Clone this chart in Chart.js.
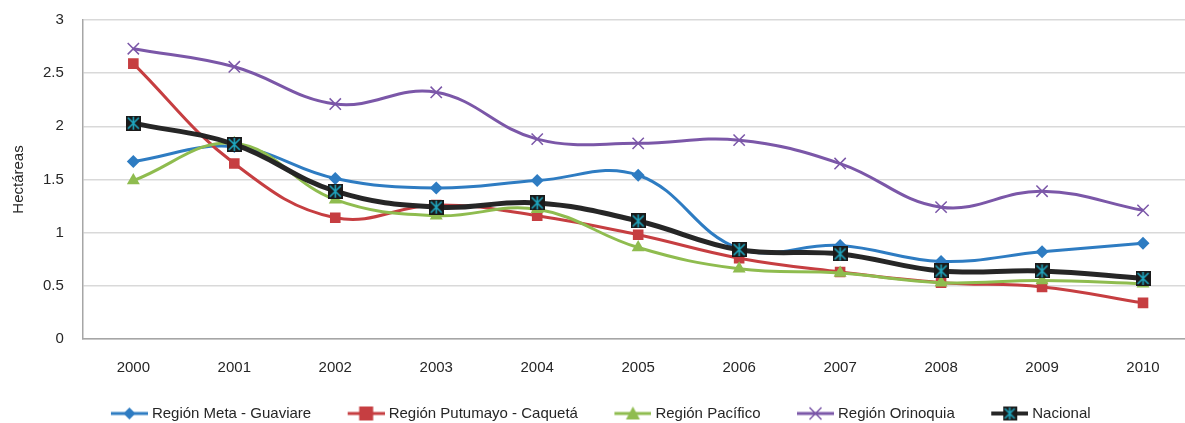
<!DOCTYPE html>
<html>
<head>
<meta charset="utf-8">
<script src="https://cdn.jsdelivr.net/npm/chart.js@4.4.0/dist/chart.umd.min.js"></script>
<style>
  html, body { margin: 0; padding: 0; background: #fff; overflow: hidden; }
  #hectChart { display: block; margin-top: -8px; }
</style>
</head>
<body>
<canvas id="hectChart" width="1203" height="431"></canvas>
<script>
var years = ['2000', '2001', '2002', '2003', '2004', '2005', '2006', '2007', '2008', '2009', '2010'];
var metaGuaviare = [1.67, 1.81, 1.51, 1.42, 1.49, 1.54, 0.85, 0.88, 0.73, 0.82, 0.90];
var putumayoCaqueta = [2.59, 1.65, 1.14, 1.26, 1.16, 0.98, 0.76, 0.63, 0.53, 0.49, 0.34];
var pacifico = [1.49, 1.84, 1.31, 1.16, 1.22, 0.86, 0.66, 0.62, 0.53, 0.55, 0.52];
var orinoquia = [2.73, 2.56, 2.21, 2.32, 1.88, 1.84, 1.87, 1.65, 1.24, 1.39, 1.21];
var nacional = [2.03, 1.83, 1.39, 1.24, 1.28, 1.11, 0.84, 0.80, 0.64, 0.64, 0.57];
var yTicks = [0, 0.5, 1, 1.5, 2, 2.5, 3];

var fontName = '"Liberation Sans", Arial, sans-serif';

// star marker used by the Nacional series
function starMarker(size) {
    var c = document.createElement('canvas');
    c.width = size; c.height = size;
    var g = c.getContext('2d');
    g.fillStyle = '#1a1a1a';
    g.fillRect(0, 0, size, size);
    g.strokeStyle = '#1fa7c0';
    g.lineWidth = 1.6;
    g.beginPath();
    g.moveTo(2, 2); g.lineTo(size - 2, size - 2);
    g.moveTo(size - 2, 2); g.lineTo(2, size - 2);
    g.moveTo(size / 2, 1); g.lineTo(size / 2, size - 1);
    g.stroke();
    return c;
}

// legend sample: blank room on the left (item spacing), then a short line with the marker
// the canvas is a bit wider than the legend box so the line ends close to the text
var boxW = 64;
var overhang = 3.5;
var sampleW = 37;
function legendIcon(color, lineW, drawMarker) {
    var c = document.createElement('canvas');
    c.width = boxW + 2 * overhang; c.height = 16;
    var g = c.getContext('2d');
    var x1 = c.width, x0 = x1 - sampleW;
    g.strokeStyle = color;
    g.lineWidth = lineW;
    g.beginPath(); g.moveTo(x0, 8); g.lineTo(x1, 8); g.stroke();
    drawMarker(g, (x0 + x1) / 2, 8);
    return c;
}

var nacStar = starMarker(15);

var series = [
    {label: 'Región Meta - Guaviare', data: metaGuaviare, color: '#2e7cc2', style: 'rectRot', radius: 6.5, order: 5, width: 3},
    {label: 'Región Putumayo - Caquetá', data: putumayoCaqueta, color: '#c63e41', style: 'rect', radius: 7.5, order: 4, width: 3},
    {label: 'Región Pacífico', data: pacifico, color: '#8fbc4f', style: 'triangle', radius: 7.5, order: 3, width: 3},
    {label: 'Región Orinoquia', data: orinoquia, color: '#7b57a8', style: 'crossRot', radius: 8, order: 2, width: 3},
    {label: 'Nacional', data: nacional, color: '#262626', style: nacStar, radius: 7, order: 1, width: 5}
];

var icons = [
    legendIcon('#2e7cc2', 3, function (g, x, y) {
        g.fillStyle = '#2e7cc2'; g.beginPath();
        g.moveTo(x, y - 6); g.lineTo(x + 6, y); g.lineTo(x, y + 6); g.lineTo(x - 6, y); g.closePath(); g.fill();
    }),
    legendIcon('#c63e41', 3, function (g, x, y) {
        g.fillStyle = '#c63e41'; g.fillRect(x - 7, y - 7, 14, 14);
    }),
    legendIcon('#8fbc4f', 3, function (g, x, y) {
        g.fillStyle = '#8fbc4f'; g.beginPath();
        g.moveTo(x, y - 7); g.lineTo(x + 7, y + 6); g.lineTo(x - 7, y + 6); g.closePath(); g.fill();
    }),
    legendIcon('#7b57a8', 3, function (g, x, y) {
        g.strokeStyle = '#7b57a8'; g.lineWidth = 1.5; g.beginPath();
        g.moveTo(x - 6, y - 6); g.lineTo(x + 6, y + 6); g.moveTo(x + 6, y - 6); g.lineTo(x - 6, y + 6); g.stroke();
    }),
    legendIcon('#262626', 4, function (g, x, y) {
        g.drawImage(starMarker(14), x - 7, y - 7);
    })
];

// nudge the legend row left so the visible part is centred like the original
var legendShift = {
    id: 'legendShift',
    afterLayout: function (chart) {
        chart.legend.left -= 21;
        chart.legend.right -= 21;
    }
};

var ctx = document.getElementById('hectChart').getContext('2d');
var hectChart = new Chart(ctx, {
    type: 'line',
    plugins: [legendShift],
    data: {
        labels: years,
        datasets: series.map(function (s) {
            return {
                label: s.label,
                data: s.data,
                order: s.order,
                borderColor: s.color,
                backgroundColor: s.color,
                borderWidth: s.width,
                tension: 0.4,
                pointStyle: s.style,
                pointRadius: s.radius,
                pointHoverRadius: s.radius,
                pointBorderWidth: s.style === 'crossRot' ? 1.5 : 0,
                pointBorderColor: s.color,
                pointBackgroundColor: s.color
            };
        })
    },
    options: {
        responsive: false,
        animation: false,
        layout: {padding: {top: 0, right: 0, left: 10, bottom: -8}},
        plugins: {
            tooltip: {enabled: false},
            legend: {
                position: 'bottom',
                labels: {
                    usePointStyle: true,
                    pointStyleWidth: boxW,
                    padding: 6,
                    color: '#262626',
                    font: {family: fontName, size: 15},
                    generateLabels: function (chart) {
                        return chart.data.datasets.map(function (ds, i) {
                            return {
                                text: ds.label,
                                datasetIndex: i,
                                pointStyle: icons[i],
                                fillStyle: ds.borderColor,
                                strokeStyle: ds.borderColor,
                                lineWidth: 0,
                                hidden: false,
                                fontColor: '#262626'
                            };
                        });
                    }
                }
            }
        },
        scales: {
            x: {
                offset: true,
                grid: {display: false, drawTicks: false},
                border: {color: '#a6a6a6', width: 1.5},
                ticks: {color: '#262626', padding: 20, font: {family: fontName, size: 15}},
                afterFit: function (scale) { scale.height += 3; }
            },
            y: {
                min: 0,
                max: 3,
                afterBuildTicks: function (axis) {
                    axis.ticks = yTicks.map(function (v) { return {value: v}; });
                },
                grid: {color: '#d9d9d9', lineWidth: 1.5, drawTicks: false},
                border: {color: '#a6a6a6', width: 1.5},
                ticks: {
                    color: '#262626',
                    padding: 19,
                    font: {family: fontName, size: 15},
                    callback: function (v) { return String(v); }
                },
                title: {
                    display: true,
                    text: 'Hectáreas',
                    color: '#262626',
                    font: {family: fontName, size: 15},
                    padding: {top: 0, bottom: -4}
                }
            }
        }
    }
});
</script>
</body>
</html>
